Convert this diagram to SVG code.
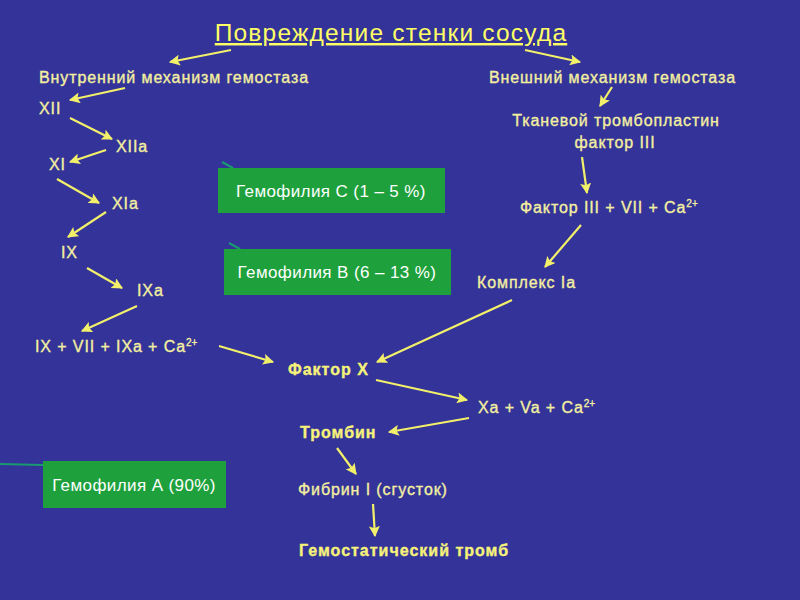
<svg xmlns="http://www.w3.org/2000/svg" width="800" height="600" viewBox="0 0 800 600">
<defs>
<marker id="ah" viewBox="0 0 10 10" refX="9" refY="5" markerWidth="5" markerHeight="5" orient="auto" markerUnits="strokeWidth">
<path d="M0,0 L10,5 L0,10 L2,5 Z" fill="#f2ef6a"/>
</marker>
<style>
.t{font-family:"Liberation Sans",Arial,sans-serif;font-size:16px;fill:#f3efa0;stroke:#f3efa0;stroke-width:0.35;letter-spacing:0.9px}
.b{font-weight:bold;fill:#f6f27a;stroke:#f6f27a;letter-spacing:1px}
.title{font-family:"Liberation Sans",Arial,sans-serif;font-size:24.5px;fill:#ffff66;letter-spacing:1.2px;text-decoration:underline}
.g{fill:#1ea13c}
.gt{font-family:"Liberation Sans",Arial,sans-serif;font-size:17px;fill:#ffffff;letter-spacing:0.4px}
.c line{stroke:#f2ef6a;stroke-width:2.2;marker-end:url(#ah)}
.stub{stroke:#1a9a70;stroke-width:2}
</style>
</defs>
<rect width="800" height="600" fill="#333399"/>
<g id="title"><text class="title" x="391" y="41" text-anchor="middle">Повреждение стенки сосуда</text></g>
<g id="inner"><text class="t" x="39" y="83">Внутренний механизм гемостаза</text></g>
<g id="outer"><text class="t" x="489" y="83">Внешний механизм гемостаза</text></g>
<g id="XII"><text class="t" x="39" y="114">XII</text></g>
<g id="XIIa"><text class="t" x="116" y="152">XIIa</text></g>
<g id="XI"><text class="t" x="49" y="170">XI</text></g>
<g id="XIa"><text class="t" x="112" y="209">XIa</text></g>
<g id="IX"><text class="t" x="61" y="258">IX</text></g>
<g id="IXa"><text class="t" x="137" y="296">IXa</text></g>
<g id="IXsum"><text class="t" x="35" y="352">IX + VII + IXa + Ca<tspan font-size="10" dy="-6" letter-spacing="0">2+</tspan></text></g>
<g id="FX"><text class="t b" x="288" y="375">Фактор X</text></g>
<g id="tissue"><text class="t" x="616" y="126" text-anchor="middle">Тканевой тромбопластин</text><text class="t" x="615" y="148" text-anchor="middle">фактор III</text></g>
<g id="F3sum"><text class="t" x="520" y="213">Фактор III + VII + Ca<tspan font-size="10" dy="-6" letter-spacing="0">2+</tspan></text></g>
<g id="complex"><text class="t" x="477" y="288">Комплекс Iа</text></g>
<g id="Xa"><text class="t" x="478" y="413">Xa + Va + Ca<tspan font-size="10" dy="-6" letter-spacing="0">2+</tspan></text></g>
<g id="thrombin"><text class="t b" x="300" y="438">Тромбин</text></g>
<g id="fibrin"><text class="t" x="298" y="495">Фибрин I (сгусток)</text></g>
<g id="thromb"><text class="t b" x="299" y="556">Гемостатический тромб</text></g>
<g id="hemC"><line class="stub" x1="222" y1="162" x2="233" y2="168"/><rect class="g" x="218" y="168" width="227" height="45"/><text class="gt" x="331" y="197" text-anchor="middle">Гемофилия С (1 – 5 %)</text></g>
<g id="hemB"><line class="stub" x1="229" y1="243" x2="240" y2="249"/><rect class="g" x="224" y="249" width="227" height="46"/><text class="gt" x="337" y="278" text-anchor="middle">Гемофилия В (6 – 13 %)</text></g>
<g id="hemA"><line class="stub" x1="0" y1="464" x2="43" y2="465"/><rect class="g" x="43" y="461" width="183" height="47"/><text class="gt" x="134" y="491" text-anchor="middle">Гемофилия А (90%)</text></g>
<g id="connectors" class="c">
<line x1="231" y1="50" x2="170" y2="62"/>
<line x1="525" y1="50" x2="580" y2="62"/>
<line x1="125" y1="88" x2="70" y2="100"/>
<line x1="70" y1="118" x2="112" y2="139"/>
<line x1="106" y1="150" x2="70" y2="162"/>
<line x1="57" y1="179" x2="99" y2="203"/>
<line x1="106" y1="212" x2="68" y2="237"/>
<line x1="87" y1="268" x2="122" y2="288"/>
<line x1="137" y1="306" x2="82" y2="331"/>
<line x1="219" y1="346" x2="273" y2="362"/>
<line x1="512" y1="300" x2="377" y2="362"/>
<line x1="581" y1="225" x2="545" y2="267"/>
<line x1="582" y1="157" x2="587" y2="193"/>
<line x1="612" y1="87" x2="600" y2="106"/>
<line x1="376" y1="380" x2="467" y2="400"/>
<line x1="469" y1="418" x2="389" y2="432"/>
<line x1="337" y1="448" x2="356" y2="474"/>
<line x1="373" y1="504" x2="375" y2="536"/>
</g>
</svg>
